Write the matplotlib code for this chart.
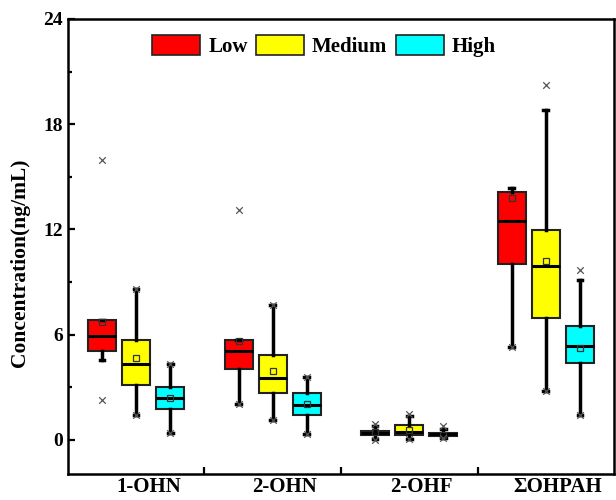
import numpy as np
import matplotlib
matplotlib.use("Agg")
import matplotlib.pyplot as plt
from matplotlib.patches import Patch
from matplotlib.ticker import MultipleLocator, FixedLocator

plt.rcParams["font.family"] = ["Liberation Serif", "DejaVu Serif"]
plt.rcParams["font.weight"] = "bold"

categories = ["1-OHN", "2-OHN", "2-OHF", "ΣOHPAH"]
levels = ["Low", "Medium", "High"]
colors = ["#ff0000", "#ffff00", "#00ffff"]

# box statistics, one value per category
low_whislo = [4.56, 2.02, 0.04, 5.32]
low_q1 = [5.05, 4.04, 0.27, 10.05]
low_med = [5.91, 5.05, 0.40, 12.47]
low_q3 = [6.81, 5.70, 0.53, 14.11]
low_whishi = [6.86, 5.72, 0.80, 14.38]
low_mean = [6.71, 5.61, 0.42, 13.80]
low_marks = [[2.27, 15.98], [2.02, 13.08], [0.0, 0.92], [5.32]]

med_whislo = [1.43, 1.13, 0.04, 2.80]
med_q1 = [3.11, 2.65, 0.30, 6.92]
med_med = [4.31, 3.51, 0.44, 9.90]
med_q3 = [5.72, 4.82, 0.86, 11.94]
med_whishi = [8.62, 7.70, 1.37, 18.82]
med_mean = [4.65, 3.93, 0.57, 10.18]
med_marks = [[1.43, 8.62], [1.13, 7.70], [0.04, 1.45], [2.80, 20.25]]

high_whislo = [0.40, 0.33, 0.08, 1.43]
high_q1 = [1.73, 1.39, 0.23, 4.37]
high_med = [2.36, 1.96, 0.32, 5.34]
high_q3 = [3.03, 2.65, 0.40, 6.48]
high_whishi = [4.33, 3.60, 0.63, 9.11]
high_mean = [2.39, 2.04, 0.30, 5.26]
high_marks = [[0.40, 4.33], [0.33, 3.60], [0.08, 0.78], [1.43, 9.69]]

series = [
    (low_whislo, low_q1, low_med, low_q3, low_whishi, low_mean, low_marks),
    (med_whislo, med_q1, med_med, med_q3, med_whishi, med_mean, med_marks),
    (high_whislo, high_q1, high_med, high_q3, high_whishi, high_mean, high_marks),
]

fig = plt.figure(figsize=(6.16, 5.0), dpi=100)
ax = fig.add_axes([0.110, 0.052, 0.887, 0.910])

offsets = [-0.25, 0.0, 0.25]
x = np.arange(1, len(categories) + 1)

for (wlo, q1, med, q3, whi, mean, marks), off, col in zip(series, offsets, colors):
    stats = []
    for i in range(len(categories)):
        stats.append(dict(whislo=wlo[i], q1=q1[i], med=med[i], q3=q3[i],
                          whishi=whi[i], mean=mean[i], fliers=[]))
    ax.bxp(stats, positions=x + off, widths=0.205, patch_artist=True,
           showmeans=True, showfliers=False, capwidths=0.035,
           boxprops=dict(facecolor=col, edgecolor="#222222", linewidth=1.5),
           medianprops=dict(color="black", linewidth=2.2),
           whiskerprops=dict(color="black", linewidth=2.5),
           capprops=dict(color="black", linewidth=2.5),
           meanprops=dict(marker="s", markerfacecolor="none",
                          markeredgecolor="#333333", markersize=5,
                          markeredgewidth=0.9))
    for i, vals in enumerate(marks):
        ax.scatter([x[i] + off] * len(vals), vals, marker="x", s=22,
                   color="#555555", linewidths=0.9, zorder=5)

ax.set_xlim(0.5, 4.5)
ax.set_ylim(-1.95, 24)
ax.yaxis.set_major_locator(MultipleLocator(6))
ax.yaxis.set_minor_locator(MultipleLocator(3))
ax.tick_params(axis="y", which="major", direction="in", length=5, width=1.6,
               labelsize=14, right=False)
ax.tick_params(axis="y", which="minor", direction="in", length=3, width=1.6)

# category labels sit slightly right of the group centres, as in the original
ax.set_xticks(x + 0.09)
ax.set_xticklabels(categories, fontsize=15, fontweight="bold")
ax.xaxis.set_minor_locator(FixedLocator([1.5, 2.5, 3.5]))
ax.tick_params(axis="x", which="major", length=0, pad=2)
ax.tick_params(axis="x", which="minor", direction="in", length=5, width=1.6)

for s in ax.spines.values():
    s.set_linewidth(1.8)

ax.set_ylabel("Concentration(ng/mL)", fontsize=15.5, fontweight="bold")
ax.yaxis.set_label_coords(-0.069, 0.464)

handles = [Patch(facecolor=c, edgecolor="#222222", linewidth=1.2) for c in colors]
ax.legend(handles, levels, loc="center", bbox_to_anchor=(0.469, 0.941),
          ncol=3, frameon=False, handlelength=2.3, handleheight=1.15,
          handletextpad=0.38, columnspacing=0.4,
          prop=dict(weight="bold", size=15))

fig.savefig("out.png", dpi=100)
